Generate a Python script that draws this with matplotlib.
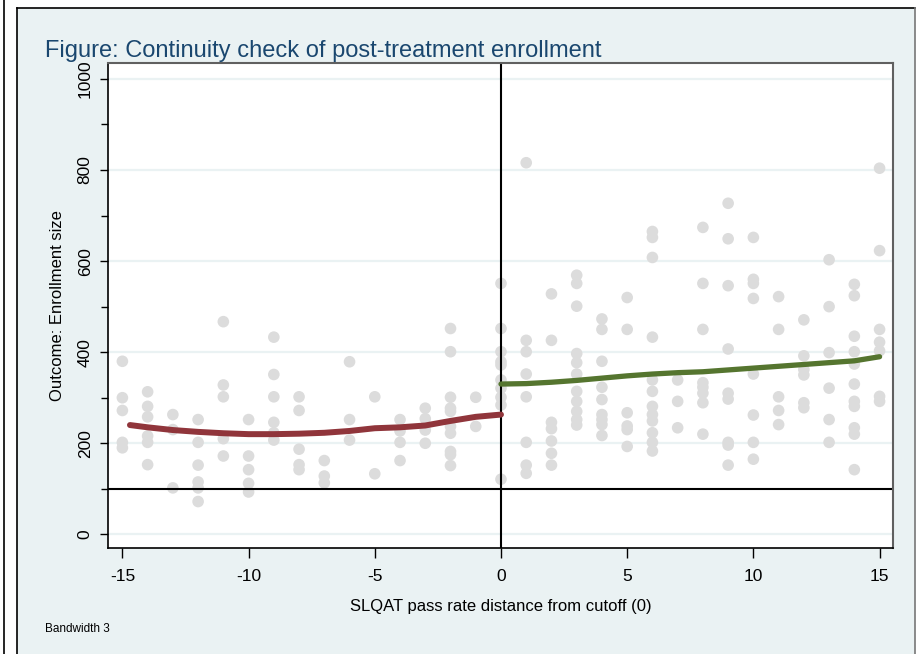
import matplotlib
matplotlib.use("Agg")
import matplotlib.pyplot as plt
from matplotlib.patches import Rectangle
from matplotlib.lines import Line2D

plt.rcParams['font.family'] = ['Liberation Sans', 'DejaVu Sans']

# distance from cutoff and enrollment values observed at each distance
distance = list(range(-15, 16))
enrollment = [
    [380, 300, 272, 202, 190],                              # -15
    [313, 281, 258, 216, 202, 153],                         # -14
    [263, 230, 102],                                        # -13
    [252, 202, 152, 115, 102, 72],                          # -12
    [467, 328, 302, 210, 172],                              # -11
    [252, 172, 142, 112, 93],                               # -10
    [433, 351, 302, 246, 223, 207],                         # -9
    [302, 272, 187, 153, 142],                              # -8
    [162, 128, 113],                                        # -7
    [379, 252, 207],                                        # -6
    [302, 133],                                             # -5
    [252, 227, 202, 162],                                   # -4
    [277, 254, 229, 200],                                   # -3
    [452, 401, 301, 277, 270, 237, 222, 182, 175, 151],     # -2
    [301, 237],                                             # -1
    [551, 452, 401, 379, 372, 339, 321, 301, 284, 121],     # 0
    [816, 426, 401, 352, 302, 202, 152, 134],               # 1
    [528, 426, 246, 232, 205, 178, 152],                    # 2
    [569, 551, 501, 397, 377, 352, 314, 292, 270, 252, 240],  # 3
    [473, 450, 380, 323, 296, 263, 252, 241, 217],          # 4
    [520, 450, 267, 238, 230, 193],                         # 5
    [665, 652, 608, 433, 339, 314, 281, 263, 249, 223, 202, 183],  # 6
    [339, 292, 234],                                        # 7
    [674, 551, 450, 333, 323, 310, 289, 220],               # 8
    [727, 649, 546, 407, 310, 297, 202, 196, 152],          # 9
    [652, 560, 551, 518, 352, 262, 202, 165],               # 10
    [522, 450, 302, 272, 241],                              # 11
    [471, 392, 362, 350, 289, 278],                         # 12
    [603, 500, 399, 321, 252, 202],                         # 13
    [549, 524, 435, 401, 374, 330, 292, 281, 234, 220, 142],  # 14
    [804, 623, 450, 422, 403, 303, 292],                    # 15
]

# local fits on each side of the cutoff
fit_left_x = [-14.7, -14, -13, -12, -11, -10, -9, -8, -7, -6, -5, -4, -3, -2, -1, 0]
fit_left_y = [240, 235, 229, 225, 222, 220, 220, 221, 223, 227, 233, 235, 239, 249, 258, 263]
fit_right_x = [0, 1, 2, 3, 4, 5, 6, 7, 8, 9, 10, 11, 12, 13, 14, 15]
fit_right_y = [330, 331, 334, 338, 343, 348, 352, 355, 357, 361, 365, 369, 373, 377, 381, 390]

xticks = [-15, -10, -5, 0, 5, 10, 15]
yticks = [0, 200, 400, 600, 800, 1000]
yminor = [100, 300, 500, 700, 900]

W, H = 920, 654
bg = '#eaf2f3'

fig = plt.figure(figsize=(W / 100, H / 100), dpi=100)
fig.patch.set_facecolor('white')

# stata style graph region
fig.add_artist(Rectangle((17 / W, 0), (915 - 17) / W, 1 - 8 / H, transform=fig.transFigure,
                         facecolor=bg, edgecolor='none', zorder=0))
fig.add_artist(Line2D([17 / W, 915 / W], [1 - 8 / H, 1 - 8 / H], transform=fig.transFigure, color='black', lw=1.2))
fig.add_artist(Line2D([17 / W, 17 / W], [0, 1 - 8 / H], transform=fig.transFigure, color='black', lw=1.2))
fig.add_artist(Line2D([915 / W, 915 / W], [0, 1 - 8 / H], transform=fig.transFigure, color='#777777', lw=1.2))
fig.add_artist(Line2D([4 / W, 4 / W], [0, 1], transform=fig.transFigure, color='black', lw=1.2))

ax = fig.add_axes([108 / W, 1 - 548 / H, (892.7 - 108) / W, (548 - 63) / H])
ax.set_facecolor('white')

xs, ys = [], []
for d, vals in zip(distance, enrollment):
    xs += [d] * len(vals)
    ys += vals
ax.scatter(xs, ys, s=70, color='#dcdcdc', edgecolors='none', zorder=1)

ax.axhline(100, color='black', lw=1.5, zorder=2)
ax.axvline(0, color='black', lw=1.5, zorder=2)

ax.plot(fit_left_x, fit_left_y, color='#90353b', lw=4.3, solid_capstyle='round', zorder=3)
ax.plot(fit_right_x, fit_right_y, color='#55752f', lw=3.8, solid_capstyle='round', zorder=3)

ax.set_xlim(-15.57, 15.52)
ax.set_ylim(-30, 1035)
ax.set_xticks(xticks)
ax.set_xticklabels([str(t) for t in xticks])
ax.set_yticks(yticks)
ax.set_yticklabels([str(t) for t in yticks], rotation=90, va='center')
ax.set_yticks(yminor, minor=True)
ax.tick_params(axis='both', which='major', direction='out', length=6, width=1, labelsize=12.5)
ax.tick_params(axis='x', which='major', length=7, pad=8)
ax.tick_params(axis='y', which='major', pad=5)
ax.tick_params(axis='y', which='minor', direction='out', length=5, width=1)

ax.set_axisbelow(True)
ax.yaxis.grid(True, color=bg, lw=1.6)

for side in ['left', 'bottom']:
    ax.spines[side].set_color('black')
    ax.spines[side].set_linewidth(1.2)
for side in ['top', 'right']:
    ax.spines[side].set_color('#606060')
    ax.spines[side].set_linewidth(1.5)

ax.set_xlabel('SLQAT pass rate distance from cutoff (0)', fontsize=12, labelpad=11)
ax.set_ylabel('Outcome: Enrollment size', fontsize=12, labelpad=9)

fig.text(45 / W, 1 - 57 / H, 'Figure: Continuity check of post-treatment enrollment',
         fontsize=17, color='#1a476f', va='baseline', ha='left')
fig.text(45 / W, 1 - 632 / H, 'Bandwidth 3', fontsize=8.5, va='baseline', ha='left')

fig.savefig('out.png', dpi=100)
